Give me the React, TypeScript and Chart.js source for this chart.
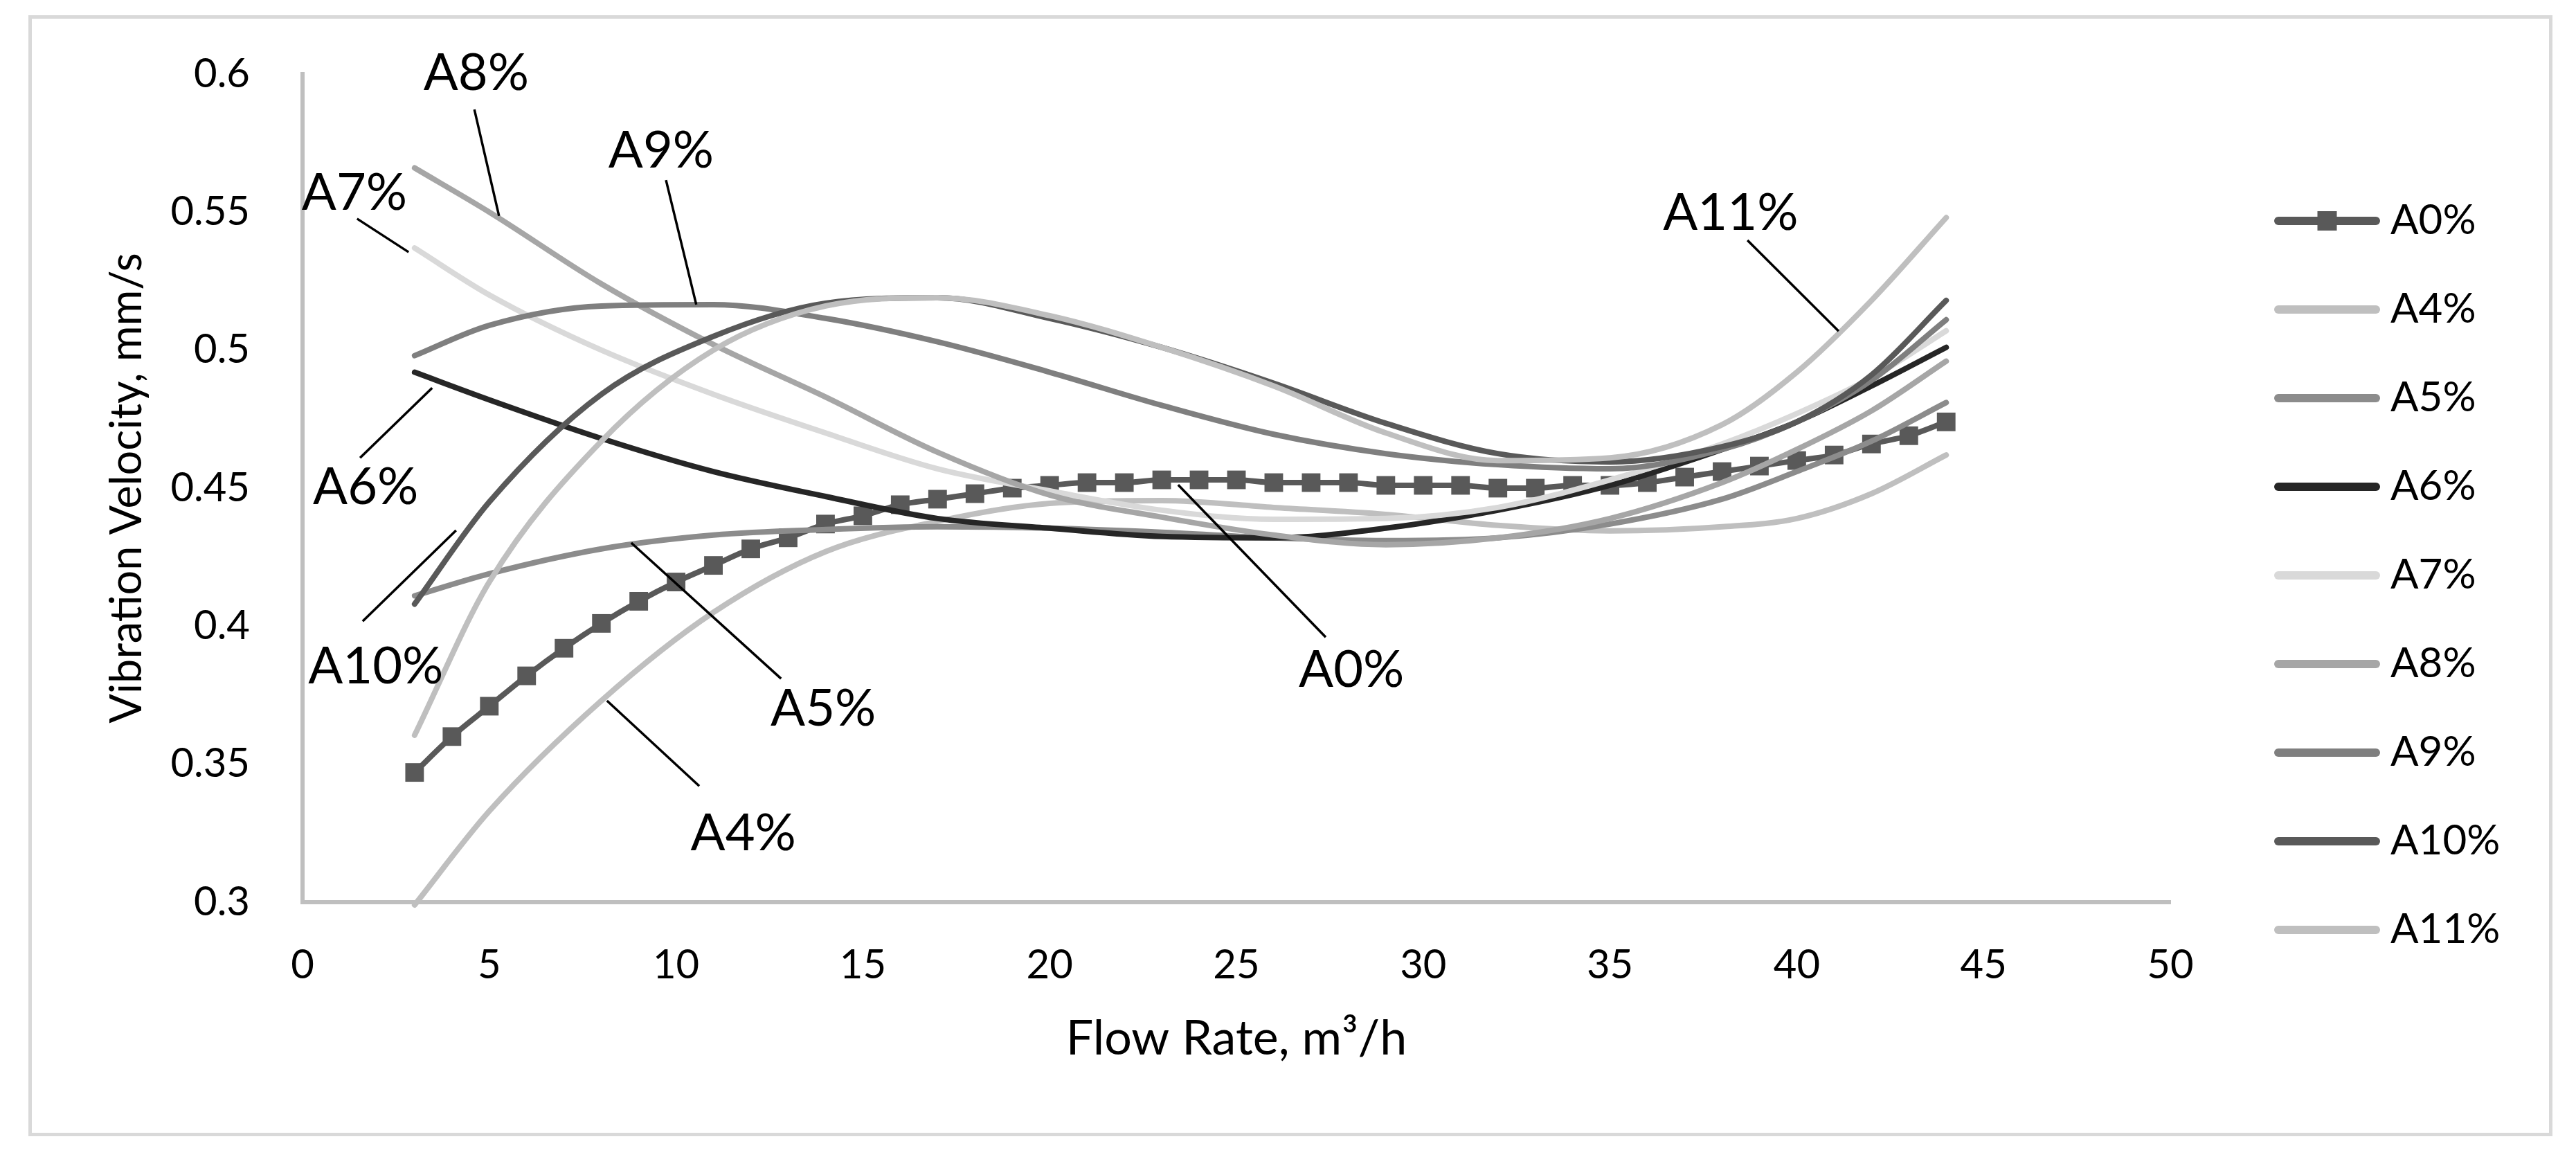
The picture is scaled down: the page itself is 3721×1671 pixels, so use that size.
import React, { useEffect, useRef } from "react";
import { Chart, registerables } from "chart.js";

Chart.register(...registerables);

// ---------- data ----------
const xTickValues = [0, 5, 10, 15, 20, 25, 30, 35, 40, 45, 50];
const yTickValues = [0.3, 0.35, 0.4, 0.45, 0.5, 0.55, 0.6];

const seriesNames = ["A0%", "A4%", "A5%", "A6%", "A7%", "A8%", "A9%", "A10%", "A11%"];
const seriesColors = ["#595959", "#bfbfbf", "#8c8c8c", "#262626", "#d9d9d9", "#a6a6a6", "#7f7f7f", "#595959", "#bfbfbf"];

// A0% measured points (with markers)
const a0Flow = [3, 4, 5, 6, 7, 8, 9, 10, 11, 12, 13, 14, 15, 16, 17, 18, 19, 20, 21, 22, 23, 24, 25, 26, 27, 28, 29, 30, 31, 32, 33, 34, 35, 36, 37, 38, 39, 40, 41, 42, 43, 44];
const a0Vel = [0.347, 0.36, 0.371, 0.382, 0.392, 0.401, 0.409, 0.416, 0.422, 0.428, 0.432, 0.437, 0.44, 0.444, 0.446, 0.448, 0.45, 0.451, 0.452, 0.452, 0.453, 0.453, 0.453, 0.452, 0.452, 0.452, 0.451, 0.451, 0.451, 0.45, 0.45, 0.451, 0.451, 0.452, 0.454, 0.456, 0.458, 0.46, 0.462, 0.466, 0.469, 0.474];

// smooth curves, read at these flow rates
const curveFlow = [3, 5, 8, 11, 14, 17, 20, 23, 26, 29, 32, 35, 38, 40, 42, 44];
const a4Vel = [0.299, 0.333, 0.373, 0.405, 0.427, 0.438, 0.4445, 0.4455, 0.443, 0.4405, 0.4365, 0.4345, 0.436, 0.439, 0.448, 0.462];
const a5Vel = [0.411, 0.419, 0.428, 0.433, 0.435, 0.436, 0.4355, 0.434, 0.432, 0.431, 0.432, 0.437, 0.446, 0.456, 0.467, 0.481];
const a6Vel = [0.492, 0.482, 0.468, 0.456, 0.447, 0.439, 0.4355, 0.4325, 0.432, 0.4355, 0.442, 0.451, 0.464, 0.474, 0.487, 0.501];
const a7Vel = [0.537, 0.52, 0.5, 0.484, 0.47, 0.457, 0.449, 0.442, 0.4387, 0.439, 0.443, 0.453, 0.466, 0.477, 0.49, 0.507];
const a8Vel = [0.566, 0.55, 0.524, 0.502, 0.483, 0.463, 0.4475, 0.4395, 0.433, 0.4295, 0.432, 0.439, 0.452, 0.464, 0.478, 0.496];
const a9Vel = [0.498, 0.509, 0.516, 0.5165, 0.5115, 0.503, 0.492, 0.48, 0.4695, 0.4625, 0.4585, 0.457, 0.464, 0.474, 0.489, 0.511];
const a10Vel = [0.408, 0.445, 0.484, 0.505, 0.517, 0.519, 0.5115, 0.501, 0.488, 0.4735, 0.4625, 0.4595, 0.465, 0.474, 0.491, 0.518];
const a11Vel = [0.3605, 0.416, 0.467, 0.5, 0.516, 0.519, 0.5125, 0.501, 0.487, 0.47, 0.46, 0.461, 0.473, 0.492, 0.518, 0.548];

const curveValues = [a4Vel, a5Vel, a6Vel, a7Vel, a8Vel, a9Vel, a10Vel, a11Vel];

// callout labels (placed in data units)
const calloutLabels = ["A8%", "A7%", "A9%", "A6%", "A10%", "A5%", "A4%", "A0%", "A11%"];
const calloutTextAt = [[4.65, 0.6008], [1.39, 0.5576], [9.6, 0.5727], [1.69, 0.451], [1.96, 0.3858], [13.94, 0.3707], [11.8, 0.3255], [28.08, 0.3847], [38.23, 0.5501]];
const calloutLineFrom = [[4.6, 0.5872], [1.46, 0.5476], [9.73, 0.5616], [3.47, 0.4863], [4.11, 0.4347], [8.8, 0.4302], [8.15, 0.373], [23.44, 0.4512], [38.68, 0.5398]];
const calloutLineTo = [[5.26, 0.5486], [2.84, 0.5355], [10.54, 0.5165], [1.54, 0.461], [1.61, 0.4018], [12.81, 0.381], [10.62, 0.3421], [27.39, 0.396], [41.12, 0.5069]];

// ---------- layout constants ----------
const W = 3721;
const H = 1671;
const PLOT_RIGHT = 3135;
const FONT = "Lato, 'Open Sans', sans-serif";
const LEGEND_FONT = 60;
const LEGEND_PAD = 68;
const LEGEND_BOX = 220;

function makeLegendIcon(color: string, withMarker: boolean) {
  const c = document.createElement("canvas");
  c.width = 250;
  c.height = 40;
  const g = c.getContext("2d")!;
  g.strokeStyle = color;
  g.lineWidth = 12;
  g.lineCap = "round";
  g.beginPath();
  g.moveTo(103, 20);
  g.lineTo(244, 20);
  g.stroke();
  if (withMarker) {
    g.fillStyle = color;
    g.fillRect(173.5 - 14, 6, 28, 28);
  }
  return c;
}

const framePlugin = {
  id: "frame",
  beforeDraw(chart: any) {
    const ctx = chart.ctx;
    ctx.save();
    ctx.fillStyle = "#ffffff";
    ctx.fillRect(0, 0, chart.width, chart.height);
    ctx.strokeStyle = "#d9d9d9";
    ctx.lineWidth = 5;
    ctx.strokeRect(43.5, 24.5, 3641, 1614);
    ctx.restore();
  },
};

const calloutPlugin = {
  id: "callouts",
  afterDraw(chart: any) {
    const ctx = chart.ctx;
    const xs = chart.scales.x;
    const ys = chart.scales.y;
    ctx.save();
    ctx.strokeStyle = "#000000";
    ctx.lineWidth = 3.5;
    ctx.fillStyle = "#000000";
    const size = 74;
    ctx.font = `${size}px ${FONT}`;
    ctx.textAlign = "center";
    ctx.textBaseline = "alphabetic";
    calloutLabels.forEach((t, i) => {
      const [fx, fy] = calloutLineFrom[i];
      const [tx, ty] = calloutLineTo[i];
      ctx.beginPath();
      ctx.moveTo(xs.getPixelForValue(fx), ys.getPixelForValue(fy));
      ctx.lineTo(xs.getPixelForValue(tx), ys.getPixelForValue(ty));
      ctx.stroke();
      const [lx, ly] = calloutTextAt[i];
      ctx.fillText(t, xs.getPixelForValue(lx), ys.getPixelForValue(ly) + size * 0.358);
    });
    ctx.restore();
  },
};

export default function App() {
  const ref = useRef<HTMLCanvasElement | null>(null);

  useEffect(() => {
    if (!ref.current) return;
    const icons = seriesNames.map((_, i) => makeLegendIcon(seriesColors[i], i === 0));

    // legend width: padding + box + half font + widest text (+ a few px)
    const m = document.createElement("canvas").getContext("2d")!;
    m.font = `normal ${LEGEND_FONT}px ${FONT}`;
    const tw = Math.max(...seriesNames.map((n) => m.measureText(n).width));
    const legendW = Math.ceil(LEGEND_PAD + LEGEND_BOX + LEGEND_FONT / 2 + tw + 6);
    const padRight = W - PLOT_RIGHT - legendW;

    const datasets: any[] = [
      {
        label: seriesNames[0],
        data: a0Flow.map((f, i) => ({ x: f, y: a0Vel[i] })),
        borderColor: seriesColors[0],
        backgroundColor: seriesColors[0],
        borderWidth: 8,
        pointStyle: "rect",
        pointRadius: 19,
        pointBorderWidth: 0,
        pointBackgroundColor: seriesColors[0],
        showLine: true,
        cubicInterpolationMode: "monotone",
        borderCapStyle: "round",
        borderJoinStyle: "round",
        clip: false,
        order: 8,
      },
      ...curveValues.map((vals, k) => ({
        label: seriesNames[k + 1],
        data: curveFlow.map((f, i) => ({ x: f, y: vals[i] })),
        borderColor: seriesColors[k + 1],
        backgroundColor: seriesColors[k + 1],
        borderWidth: 8,
        pointRadius: 0,
        showLine: true,
        cubicInterpolationMode: "monotone",
        borderCapStyle: "round",
        borderJoinStyle: "round",
        clip: false,
        order: 7 - k,
      })),
    ];

    const chart = new Chart(ref.current, {
      type: "scatter",
      data: { datasets },
      plugins: [framePlugin, calloutPlugin],
      options: {
        animation: false,
        responsive: false,
        devicePixelRatio: 1,
        layout: { padding: { left: 0, top: 107, right: padRight, bottom: 116 } },
        plugins: {
          tooltip: { enabled: false },
          legend: {
            display: true,
            position: "right",
            align: "center",
            maxWidth: legendW,
            labels: {
              usePointStyle: true,
              pointStyleWidth: LEGEND_BOX,
              padding: LEGEND_PAD,
              color: "#000000",
              font: { size: LEGEND_FONT, family: FONT },
              generateLabels: (ch: any) =>
                ch.data.datasets.map((ds: any, i: number) => ({
                  text: ds.label,
                  fillStyle: ds.borderColor,
                  strokeStyle: ds.borderColor,
                  lineWidth: 0,
                  hidden: false,
                  datasetIndex: i,
                  pointStyle: icons[i],
                  fontColor: "#000000",
                })),
            },
          },
        },
        scales: {
          x: {
            type: "linear",
            min: 0,
            max: 50,
            afterBuildTicks: (s: any) => {
              s.ticks = xTickValues.map((v) => ({ value: v }));
            },
            afterFit: (s: any) => {
              s.height = 252;
            },
            grid: { display: false },
            border: { display: true, color: "#bfbfbf", width: 6 },
            ticks: {
              padding: 48,
              color: "#000000",
              maxRotation: 0,
              autoSkip: false,
              font: { size: 58, family: FONT },
              callback: (v: any) => String(v),
            },
            title: {
              display: true,
              text: "Flow Rate, m³/h",
              color: "#000000",
              font: { size: 70, family: FONT },
              padding: { top: 0, bottom: 13 },
            },
          },
          y: {
            type: "linear",
            min: 0.3,
            max: 0.6,
            afterBuildTicks: (s: any) => {
              s.ticks = yTickValues.map((v) => ({ value: v }));
            },
            afterFit: (s: any) => {
              s.width = 437;
            },
            grid: { display: false },
            border: { display: true, color: "#bfbfbf", width: 6 },
            ticks: {
              padding: 68,
              color: "#000000",
              font: { size: 58, family: FONT },
              callback: (v: any) => String(Number(Number(v).toFixed(2))),
            },
            title: {
              display: true,
              text: "Vibration Velocity, mm/s",
              color: "#000000",
              font: { size: 63, family: FONT },
              padding: { top: 146, bottom: 0 },
            },
          },
        },
      } as any,
    });

    return () => {
      chart.destroy();
    };
  }, []);

  return (
    <div style={{ position: "absolute", left: 0, top: 0, width: W, height: H, background: "#fff" }}>
      <canvas ref={ref} width={W} height={H} style={{ width: W, height: H, display: "block" }} />
    </div>
  );
}
